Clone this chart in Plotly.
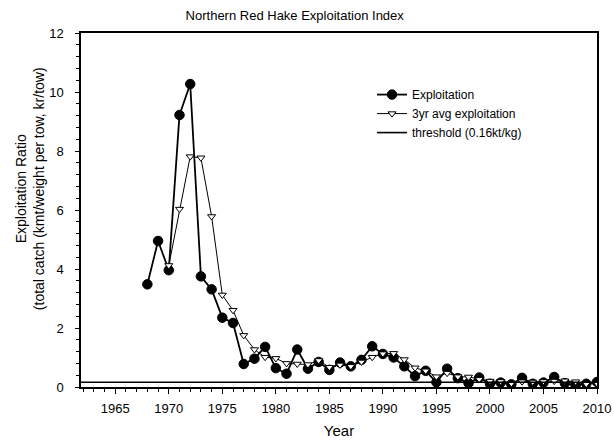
import plotly.graph_objects as go

years = list(range(1968, 2011))
exploitation = [3.48, 4.95, 3.96, 9.22, 10.27, 3.75, 3.31, 2.35, 2.17, 0.78,
                0.96, 1.36, 0.64, 0.45, 1.27, 0.62, 0.85, 0.58, 0.83, 0.70,
                0.92, 1.38, 1.12, 1.00, 0.70, 0.37, 0.55, 0.16, 0.62, 0.30,
                0.13, 0.32, 0.11, 0.15, 0.09, 0.31, 0.11, 0.15, 0.34, 0.13,
                0.06, 0.11, 0.17]

avg_years = list(range(1970, 2011))
avg_exploitation = [4.12, 6.03, 7.81, 7.77, 5.78, 3.12, 2.60, 1.75, 1.27, 1.01,
                    0.97, 0.80, 0.78, 0.76, 0.90, 0.67, 0.75, 0.70, 0.85, 1.01,
                    1.13, 1.14, 0.93, 0.65, 0.55, 0.35, 0.47, 0.35, 0.34, 0.26,
                    0.20, 0.19, 0.12, 0.18, 0.17, 0.19, 0.20, 0.21, 0.18, 0.10,
                    0.12]

threshold_value = 0.16
x_range = [1961.8, 2010]
y_range = [0, 12]
x_tickvals = [1965, 1970, 1975, 1980, 1985, 1990, 1995, 2000, 2005, 2010]
y_tickvals = [0, 2, 4, 6, 8, 10, 12]

FONT = "Arial, Liberation Sans, sans-serif"

fig = go.Figure()
fig.add_trace(go.Scatter(
    x=years, y=exploitation, mode="lines+markers", name="Exploitation",
    line=dict(color="black", width=1.8),
    marker=dict(symbol="circle", size=9.5, color="black", line=dict(color="black", width=1)),
))
fig.add_trace(go.Scatter(
    x=avg_years, y=avg_exploitation, mode="lines+markers", name="3yr avg exploitation",
    line=dict(color="black", width=1),
    marker=dict(symbol="triangle-down", size=7, color="white", line=dict(color="black", width=1)),
))
fig.add_trace(go.Scatter(
    x=x_range, y=[threshold_value] * len(x_range), mode="lines",
    name="threshold (0.16kt/kg)",
    line=dict(color="black", width=1.6),
))

fig.update_layout(
    width=614, height=446,
    margin=dict(l=81, r=17, t=33, b=59),
    paper_bgcolor="white", plot_bgcolor="white",
    font=dict(family=FONT, color="black", size=13),
    title=dict(text="Northern Red Hake Exploitation Index", x=0.48, xanchor="center",
               y=0.965, yanchor="middle", font=dict(size=13)),
    showlegend=True,
    legend=dict(x=0.564, y=0.867, xanchor="left", yanchor="top",
                bgcolor="rgba(0,0,0,0)", font=dict(size=12), tracegroupgap=0,
                itemwidth=30),
    annotations=[dict(
        text="Exploitation Ratio<br>(total catch (kmt/weight per tow, kr/tow)",
        xref="paper", yref="paper", x=-0.1, y=0.56, textangle=-90,
        showarrow=False, font=dict(size=14), xanchor="center", yanchor="middle",
    )],
)

fig.update_xaxes(
    range=x_range, tickmode="array", tickvals=x_tickvals, automargin=False,
    ticks="outside", ticklen=5, tickwidth=1, tickcolor="black",
    minor=dict(dtick=1, tick0=1965, ticks="outside", ticklen=3, tickcolor="black"),
    showline=True, linecolor="black", linewidth=1.5, mirror=True,
    showgrid=False, zeroline=False,
    tickfont=dict(size=13), ticklabelstandoff=4,
    title=dict(text="Year", font=dict(size=15), standoff=10),
)
fig.update_yaxes(
    range=y_range, tickmode="array", tickvals=y_tickvals, automargin=False,
    ticks="outside", ticklen=4, tickwidth=1, tickcolor="black",
    minor=dict(dtick=0.4, tick0=0, ticks="outside", ticklen=3, tickcolor="black"),
    showline=True, linecolor="black", linewidth=1.5, mirror=True,
    showgrid=False, zeroline=False,
    tickfont=dict(size=13), ticklabelstandoff=9,
)

fig.write_html("out.html", config={"displayModeBar": False},
               post_script="document.body.style.margin='0px';")
